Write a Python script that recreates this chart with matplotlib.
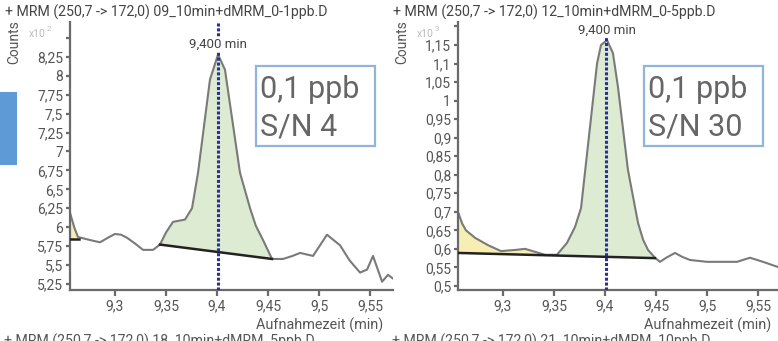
import numpy as np
import matplotlib
matplotlib.use("Agg")
import matplotlib.pyplot as plt
from matplotlib.patches import Rectangle

plt.rcParams['font.family'] = ['Roboto', 'DejaVu Sans']

W, H = 778, 341  # figure size in pixels

# === Data: left trace, 0,1 ppb (S/N 4), counts x10^2 ===
t_a = [9.2559, 9.2600, 9.2637, 9.2755, 9.2853, 9.2930, 9.3000, 9.3060, 9.3118,
       9.3200, 9.3275, 9.3373, 9.3441, 9.3500, 9.3569, 9.3686, 9.3755, 9.3814,
       9.3931, 9.4010, 9.4078, 9.4225, 9.4324, 9.4380, 9.4451, 9.4539, 9.4647,
       9.4740, 9.4814, 9.4941, 9.5078, 9.5206, 9.5300, 9.5402, 9.5471, 9.5529,
       9.5618, 9.5676, 9.5745]
c_a = [6.19, 6.00, 5.87, 5.83, 5.80, 5.86, 5.91, 5.90, 5.86,
       5.78, 5.70, 5.70, 5.77, 5.93, 6.07, 6.10, 6.25, 6.72,
       7.95, 8.28, 8.08, 6.72, 6.25, 6.02, 5.83, 5.58, 5.58,
       5.62, 5.66, 5.62, 5.90, 5.76, 5.56, 5.40, 5.44, 5.62,
       5.28, 5.37, 5.30]
base_a = [(9.3441, 5.77), (9.4539, 5.58)]      # integrated peak baseline
side_a = [(9.2559, 5.845), (9.2650, 5.845)]    # small yellow area at start

# === Data: right trace, 0,1 ppb (S/N 30), counts x10^3 ===
t_b = [9.2559, 9.2600, 9.2637, 9.2725, 9.2853, 9.2980, 9.3118, 9.3216, 9.3314,
       9.3412, 9.3529, 9.3627, 9.3706, 9.3765, 9.3922, 9.3961, 9.4020, 9.4078,
       9.4127, 9.4225, 9.4294, 9.4324, 9.4373, 9.4422, 9.4490, 9.4539, 9.4600,
       9.4686, 9.4760, 9.4833, 9.5000, 9.5294, 9.5422, 9.5549, 9.5696]
c_b = [0.700, 0.668, 0.650, 0.630, 0.610, 0.594, 0.597, 0.600, 0.592,
       0.584, 0.584, 0.616, 0.659, 0.710, 1.100, 1.150, 1.163, 1.128,
       1.037, 0.813, 0.713, 0.670, 0.625, 0.597, 0.576, 0.565, 0.576,
       0.589, 0.578, 0.570, 0.565, 0.565, 0.576, 0.565, 0.551]
base_b = [(9.2559, 0.589), (9.4490, 0.575)]
side_b = [(9.2559, 0.589), (9.3450, 0.586)]
green_b = [(9.3529, 0.585), (9.4490, 0.575)]

peak_rt = 9.400

titles = ["+ MRM (250,7 -> 172,0) 09_10min+dMRM_0-1ppb.D",
          "+ MRM (250,7 -> 172,0) 12_10min+dMRM_0-5ppb.D"]
next_titles = ["+ MRM (250,7 -> 172,0) 18_10min+dMRM_5ppb.D",
               "+ MRM (250,7 -> 172,0) 21_10min+dMRM_10ppb.D"]
box_lines = [("0,1 ppb", "S/N 4"), ("0,1 ppb", "S/N 30")]
exponents = ["2", "3"]

xticks = [9.3, 9.35, 9.4, 9.45, 9.5, 9.55]
xlabels = ["9,3", "9,35", "9,4", "9,45", "9,5", "9,55"]
yticks_a = [5.25, 5.5, 5.75, 6, 6.25, 6.5, 6.75, 7, 7.25, 7.5, 7.75, 8, 8.25, 8.5]
ylabels_a = ["5,25", "5,5", "5,75", "6", "6,25", "6,5", "6,75", "7", "7,25",
             "7,5", "7,75", "8", "8,25", ""]
yticks_b = [0.5, 0.55, 0.6, 0.65, 0.7, 0.75, 0.8, 0.85, 0.9, 0.95, 1.0, 1.05, 1.1, 1.15, 1.2]
ylabels_b = ["0,5", "0,55", "0,6", "0,65", "0,7", "0,75", "0,8", "0,85", "0,9",
             "0,95", "1", "1,05", "1,1", "1,15", ""]

# pixel helpers (origin top-left)
def fx(x):
    return x / W

def fy(y):
    return 1 - y / H

def area(ax, t, c, b0, b1, color):
    # polygon: baseline start -> curve -> baseline end, closed along the baseline
    sel = [(ti, ci) for ti, ci in zip(t, c) if b0[0] <= ti <= b1[0]]
    xs = [b0[0]] + [s[0] for s in sel] + [b1[0]]
    ys = [b0[1]] + [s[1] for s in sel] + [b1[1]]
    ax.fill(xs, ys, color=color, lw=0, zorder=1)


fig = plt.figure(figsize=(W / 100, H / 100), dpi=100)

panels = [
    dict(x0=70, x1=393, t=t_a, c=c_a, fills=[(side_a, '#f6eeb2'), (base_a, '#dcebd2')],
         lines=[side_a, base_a],
         xlim=(9.2559, 9.5725), ylim=(5.17, 8.71), yt=yticks_a, yl=ylabels_a, off=0),
    dict(x0=458, x1=778, t=t_b, c=c_b, fills=[(side_b, '#f6eeb2'), (green_b, '#dcebd2')],
         lines=[base_b],
         xlim=(9.2559, 9.5696), ylim=(0.489, 1.212), yt=yticks_b, yl=ylabels_b, off=388),
]

for i, p in enumerate(panels):
    ax = fig.add_axes([fx(p['x0']), fy(290), fx(p['x1'] - p['x0']), (290 - 22) / H])
    ax.set_facecolor('none')
    ax.set_xlim(*p['xlim'])
    ax.set_ylim(*p['ylim'])

    # shaded areas + baselines
    for b, col in p['fills']:
        area(ax, p['t'], p['c'], b[0], b[1], col)
    for b in p['lines']:
        ax.plot([b[0][0], b[1][0]], [b[0][1], b[1][1]], color='#222222', lw=1.8, zorder=3)

    ax.plot(p['t'], p['c'], color='#7a7a7a', lw=1.5, zorder=2)
    ax.axvline(peak_rt + 0.001, color='#2b2f9e', lw=2.2, ls=(0, (1, 0.6)), zorder=4)

    pk = int(np.argmax(p['c']))
    ax.annotate("9,400 min", (p['t'][pk], p['c'][pk]), xytext=(0, 10),
                textcoords='offset pixels', ha='center', va='center',
                fontsize=9.5, color='#444444', zorder=5,
                bbox=dict(facecolor='white', edgecolor='none', pad=0.5))

    for s in ['top', 'right']:
        ax.spines[s].set_visible(False)
    for s in ['left', 'bottom']:
        ax.spines[s].set_color('#6a6a6a')
        ax.spines[s].set_linewidth(1.6)

    ax.set_xticks(xticks)
    ax.set_xticklabels(xlabels)
    ax.set_yticks(p['yt'])
    ax.set_yticklabels(p['yl'])
    ax.tick_params(axis='y', length=3, width=1.6, color='#6a6a6a', labelsize=10,
                   labelcolor='#555555', pad=2)
    ax.tick_params(axis='x', length=4, width=1.6, color='#6a6a6a', labelsize=10,
                   labelcolor='#555555', pad=3)

    off = p['off']
    fig.text(fx(off + 5), fy(12), titles[i], fontsize=10.2, color='#444444',
             ha='left', va='center')
    fig.text(fx(off + 14), fy(42), "Counts", rotation=90, fontsize=10,
             color='#555555', ha='center', va='center')
    fig.text(fx(off + 29), fy(34), "x10", fontsize=7.5, color='#bbbbbb',
             ha='left', va='center')
    fig.text(fx(off + 47), fy(29), exponents[i], fontsize=5.5, color='#bbbbbb',
             ha='left', va='center')
    fig.text(fx(off + 383), fy(325), "Aufnahmezeit (min)", fontsize=10.4,
             color='#555555', ha='right', va='center')
    fig.text(fx(off + 4), fy(334), next_titles[i], fontsize=10.2, color='#555555',
             ha='left', va='top')

    # S/N box
    fig.patches.append(Rectangle((fx(off + 256), fy(146)), fx(119), 80 / H,
                                 transform=fig.transFigure, facecolor='white',
                                 edgecolor='#8fb6da', lw=1.6, zorder=5))
    fig.text(fx(off + 260), fy(89), box_lines[i][0], fontsize=22, color='#666666',
             ha='left', va='center', zorder=6)
    fig.text(fx(off + 260), fy(127), box_lines[i][1], fontsize=22, color='#666666',
             ha='left', va='center', zorder=6)

# partial blue element at the left border
fig.patches.append(Rectangle((0, fy(165)), fx(17), 73 / H, transform=fig.transFigure,
                             facecolor='#5d9ad6', edgecolor='none', zorder=1))

fig.savefig("out.png", dpi=100)
